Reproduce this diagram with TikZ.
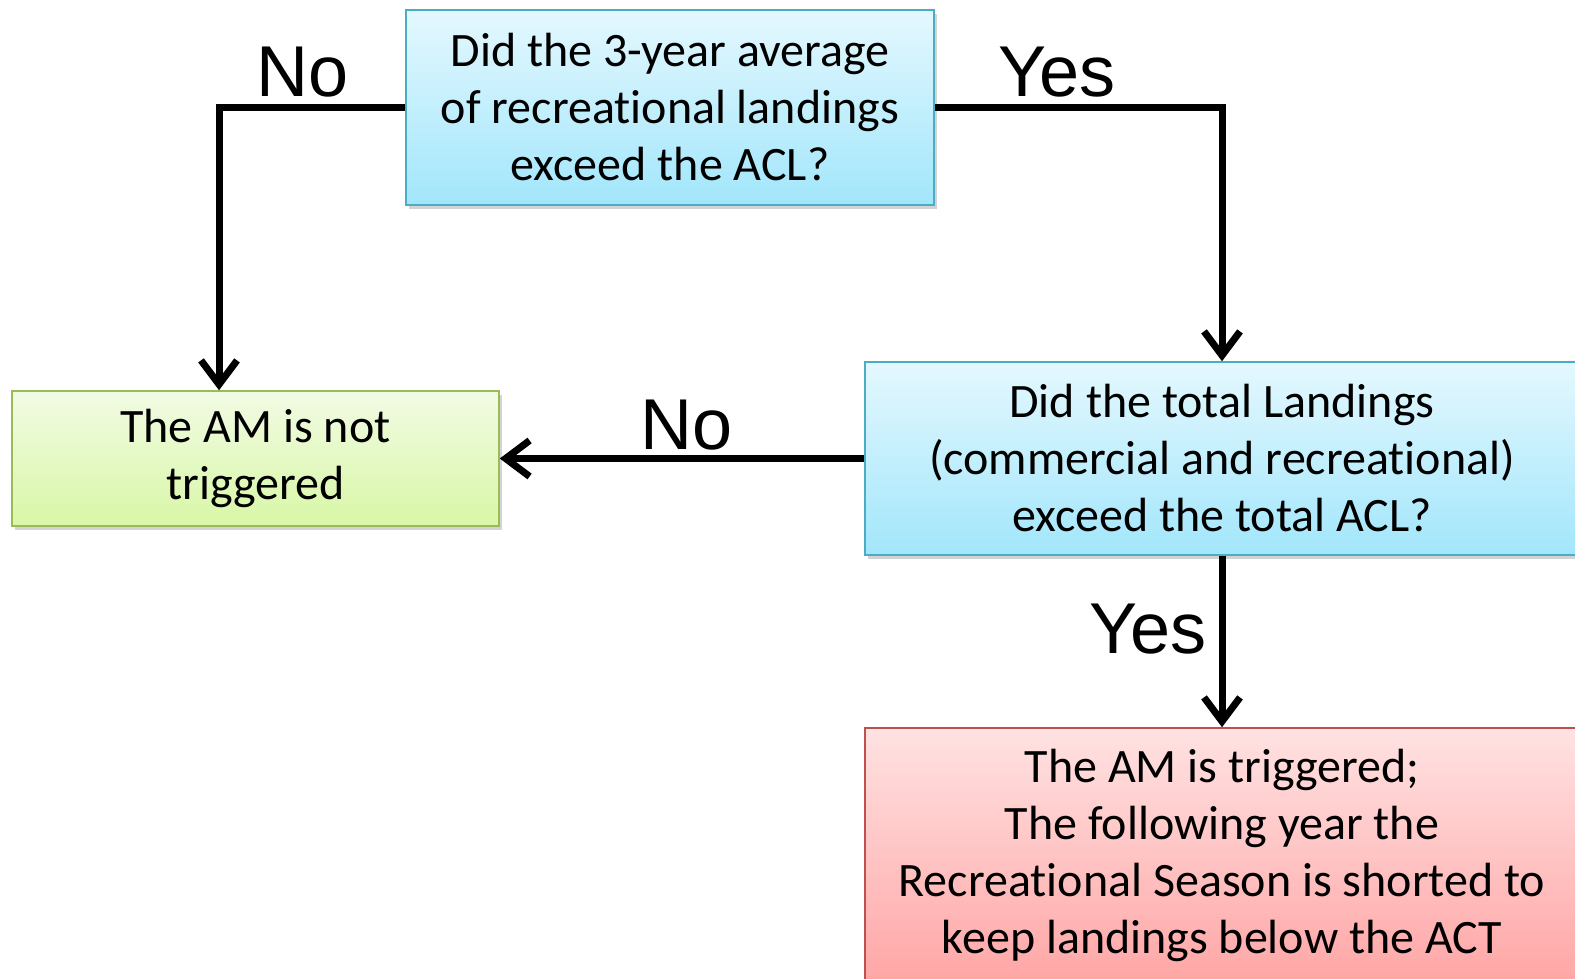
\documentclass[tikz,border=0pt]{standalone}
\usepackage{fontspec}
\setmainfont{Carlito}[Ligatures=NoCommon]
\newfontfamily\lblfont{Liberation Sans}
\usetikzlibrary{arrows.meta,shadows}
\definecolor{bluetop}{HTML}{E4F8FE}
\definecolor{bluebot}{HTML}{A2E6FB}
\definecolor{blueedge}{HTML}{4BACC6}
\definecolor{greentop}{HTML}{F2FBE4}
\definecolor{greenbot}{HTML}{D8F7A6}
\definecolor{greenedge}{HTML}{9BBB59}
\definecolor{redtop}{HTML}{FFE2E2}
\definecolor{redbot}{HTML}{FFA6A6}
\definecolor{rededge}{HTML}{C0504D}
\tikzset{
  boxbase/.style={rectangle, line width=1.5pt, align=center, inner sep=0pt,
    font=\fontsize{48}{57}\selectfont,
    drop shadow={shadow xshift=3pt, shadow yshift=-4pt, opacity=0.35}},
  bluebox/.style={boxbase, draw=blueedge, top color=bluetop, bottom color=bluebot},
  greenbox/.style={boxbase, draw=greenedge, top color=greentop, bottom color=greenbot},
  redbox/.style={boxbase, draw=rededge, top color=redtop, bottom color=redbot},
  conn/.style={line width=7pt, line join=miter, -{Straight Barb[length=24pt,width=36pt,line width=7pt]}},
  lbl/.style={font=\lblfont\fontsize{72}{72}\selectfont, anchor=base, inner sep=0pt}
}
\begin{document}
\begin{tikzpicture}[x=1pt,y=-1pt]
\useasboundingbox (0,0) rectangle (1575,979);
\node[bluebox, minimum width=528, minimum height=195] (q1) at (670,107.5)
  {Did the 3-year average\\of recreational landings\\exceed the ACL?};
\node[greenbox, minimum width=487, minimum height=135] (no) at (255.5,458.5)
  {The AM is not\\triggered};
\node[bluebox, minimum width=714, minimum height=193] (q2) at (1222,458.5)
  {Did the total Landings\\(commercial and recreational)\\exceed the total ACL?};
\node[redbox, minimum width=714, minimum height=254] (yes) at (1222,855)
  {The AM is triggered;\\The following year the\\Recreational Season is shorted to\\keep landings below the ACT};
\draw[conn] (q1.west) -| ([xshift=-36.5pt]no.north);
\draw[conn] (q1.east) -| (q2.north);
\draw[conn] (q2.west) -- (no.east);
\draw[conn] (q2.south) -- (yes.north);
\node[lbl] (l1) at (303,97) {No};
\node[lbl] (l2) at (1057,97) {Yes};
\node[lbl] (l3) at (687,449) {No};
\node[lbl] (l4) at (1148,653) {Yes};
\end{tikzpicture}
\end{document}
